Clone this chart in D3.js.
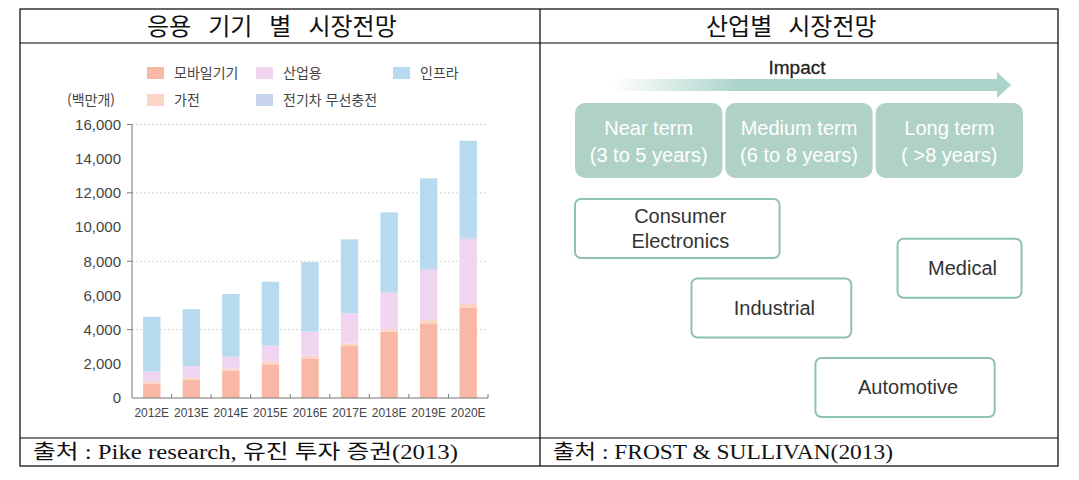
<!DOCTYPE html>
<html lang="ko">
  <head>
    <meta charset="UTF-8" />
    <title>응용 기기 별 시장전망 / 산업별 시장전망</title>
    <script src="https://d3js.org/d3.v7.min.js"></script>
    <style>
      body {
        margin: 0;
        background: #fff;
      }
      svg {
        display: block;
      }
      .serif {
        font-family: "Liberation Serif", "Noto Sans CJK KR", serif;
      }
      .sans {
        font-family: "Liberation Sans", Arial, "Noto Sans CJK KR", sans-serif;
      }
      .kr {
        font-family: "Noto Sans CJK KR", sans-serif;
      }
    </style>
  </head>
  <body>
    <div id="chart"></div>

    <script>
      // ---- data: left chart (백만개) ----
      const years = ["2012E", "2013E", "2014E", "2015E", "2016E", "2017E", "2018E", "2019E", "2020E"];
      const mobile = [850, 1090, 1600, 1970, 2320, 3040, 3880, 4370, 5300];
      const appliance = [100, 100, 120, 150, 150, 150, 150, 200, 200];
      const industrial = [590, 680, 700, 940, 1410, 1770, 2130, 2920, 3800];
      const evCharging = [0, 0, 0, 0, 0, 0, 50, 100, 100];
      const infra = [3210, 3330, 3660, 3740, 4070, 4320, 4650, 5260, 5650];
      const seriesNames = ["모바일기기", "가전", "산업용", "전기차 무선충전", "인프라"];
      const seriesColors = ["#f9b8a6", "#fcd5c7", "#efd5ef", "#c8d4ec", "#b8daee"];
      const yTicks = [0, 2000, 4000, 6000, 8000, 10000, 12000, 14000, 16000];
      const yGrid = [4000, 8000, 12000, 16000];

      // ---- data: right diagram ----
      const terms = ["Near term", "Medium term", "Long term"];
      const termSpans = ["(3 to 5 years)", "(6 to 8 years)", "( >8 years)"];
      const sectors = ["Consumer|Electronics", "Medical", "Industrial", "Automotive"];
      const sectorStart = [0, 2.16, 0.78, 1.61];
      const sectorEnd = [1.37, 2.99, 1.85, 2.81];
      const sectorLevel = [0, 0.25, 0.5, 1];

      const W = 1079, H = 480;
      const svg = d3.select("#chart").append("svg").attr("width", W).attr("height", H);
      svg.append("rect").attr("width", W).attr("height", H).attr("fill", "#fff");

      // ---------- table frame ----------
      const tbl = { x0: 20, x1: 1058, xm: 540, y0: 9, yh: 43, ys: 438, y1: 466 };
      const frame = svg.append("g").attr("stroke", "#000").attr("stroke-width", 1.2).attr("fill", "none");
      frame.append("rect").attr("x", tbl.x0).attr("y", tbl.y0)
        .attr("width", tbl.x1 - tbl.x0).attr("height", tbl.y1 - tbl.y0);
      frame.append("line").attr("x1", tbl.x0).attr("x2", tbl.x1).attr("y1", tbl.yh).attr("y2", tbl.yh);
      frame.append("line").attr("x1", tbl.x0).attr("x2", tbl.x1).attr("y1", tbl.ys).attr("y2", tbl.ys);
      frame.append("line").attr("x1", tbl.xm).attr("x2", tbl.xm).attr("y1", tbl.y0).attr("y2", tbl.y1);

      // headers and sources
      svg.append("text").attr("class", "serif").attr("x", 147).attr("y", 35)
        .attr("font-size", 24).attr("word-spacing", 11).attr("fill", "#111")
        .text("응용 기기 별 시장전망");
      svg.append("text").attr("class", "serif").attr("x", 706).attr("y", 35)
        .attr("font-size", 24).attr("word-spacing", 10).attr("fill", "#111")
        .text("산업별 시장전망");

      svg.append("text").attr("class", "serif").attr("x", 33).attr("y", 459)
        .attr("font-size", 20).attr("fill", "#111")
        .attr("textLength", 425).attr("lengthAdjust", "spacingAndGlyphs")
        .text("출처 : Pike research, 유진 투자 증권(2013)");
      svg.append("text").attr("class", "serif").attr("x", 553).attr("y", 459)
        .attr("font-size", 20).attr("fill", "#111")
        .attr("textLength", 340).attr("lengthAdjust", "spacingAndGlyphs")
        .text("출처 : FROST & SULLIVAN(2013)");

      // ---------- left: stacked bars ----------
      const plot = { left: 132, right: 488, top: 124.5, bottom: 398 };
      const x = d3.scaleBand().domain(years).range([plot.left, plot.right]).paddingInner(0.56).paddingOuter(0.28);
      const y = d3.scaleLinear().domain([0, 16000]).range([plot.bottom, plot.top]);

      const rows = years.map((yr, i) => ({
        year: yr,
        s0: mobile[i], s1: appliance[i], s2: industrial[i], s3: evCharging[i], s4: infra[i]
      }));
      const keys = ["s0", "s1", "s2", "s3", "s4"];
      const stacked = d3.stack().keys(keys)(rows);

      // dotted grid
      svg.append("g").selectAll("line").data(yGrid).join("line")
        .attr("x1", plot.left).attr("x2", plot.right)
        .attr("y1", (d) => y(d)).attr("y2", (d) => y(d))
        .attr("stroke", "#d6d6d6").attr("stroke-width", 1).attr("stroke-dasharray", "2,2");

      svg.append("g").selectAll("g").data(stacked).join("g")
        .attr("fill", (d, i) => seriesColors[i])
        .selectAll("rect").data((d) => d).join("rect")
        .attr("x", (d) => x(d.data.year))
        .attr("width", x.bandwidth())
        .attr("y", (d) => y(d[1]))
        .attr("height", (d) => y(d[0]) - y(d[1]));

      // y axis
      const yAxis = svg.append("g").attr("class", "sans")
        .attr("transform", `translate(${plot.left},0)`)
        .call(d3.axisLeft(y).tickValues(yTicks).tickFormat(d3.format(",")).tickSize(0).tickPadding(11));
      yAxis.select(".domain").remove();
      yAxis.selectAll("text").attr("font-size", 15).attr("fill", "#444").attr("font-family", "Liberation Sans, Arial, sans-serif");
      svg.append("g").selectAll("line").data(yGrid).join("line")
        .attr("x1", plot.left - 5).attr("x2", plot.left)
        .attr("y1", (d) => y(d)).attr("y2", (d) => y(d))
        .attr("stroke", "#777");
      svg.append("line").attr("x1", plot.left).attr("x2", plot.left)
        .attr("y1", y(16000)).attr("y2", plot.bottom).attr("stroke", "#777");

      // x axis: baseline with ticks at band boundaries
      svg.append("line").attr("x1", plot.left).attr("x2", plot.right)
        .attr("y1", plot.bottom).attr("y2", plot.bottom).attr("stroke", "#777");
      const step = x.step();
      svg.append("g").selectAll("line").data(years).join("line")
        .attr("x1", (d) => x(d) + x.bandwidth() / 2 + step / 2)
        .attr("x2", (d) => x(d) + x.bandwidth() / 2 + step / 2)
        .attr("y1", plot.bottom - 4).attr("y2", plot.bottom)
        .attr("stroke", "#777");
      svg.append("g").selectAll("text").data(years).join("text")
        .attr("class", "sans")
        .attr("x", (d) => x(d) + x.bandwidth() / 2)
        .attr("y", 417)
        .attr("text-anchor", "middle")
        .attr("font-size", 12)
        .attr("fill", "#444")
        .text((d) => d);

      // unit + legend
      svg.append("text").attr("class", "kr").attr("x", 67).attr("y", 105)
        .attr("font-size", 14).attr("fill", "#444").text("(백만개)");
      const legendPos = [[147, 73], [147, 100], [256, 73], [256, 100], [393, 73]];
      const legend = svg.append("g").selectAll("g").data(seriesNames).join("g")
        .attr("transform", (d, i) => `translate(${legendPos[i][0]},${legendPos[i][1]})`);
      legend.append("rect").attr("x", 0).attr("y", -6).attr("width", 17).attr("height", 12)
        .attr("fill", (d, i) => seriesColors[i]);
      legend.append("text").attr("class", "kr").attr("x", 27).attr("y", 5)
        .attr("font-size", 14).attr("fill", "#444").text((d) => d);

      // ---------- right: impact diagram ----------
      const impactX = d3.scaleLinear().domain([0, 3]).range([575, 1023]);
      const termX = d3.scaleBand().domain(terms).range([575, 1023]).paddingInner(0.02);
      const levelY = d3.scaleLinear().domain([0, 1]).range([199, 358]);
      const teal = "#a9d4ca";

      const grad = svg.append("defs").append("linearGradient").attr("id", "arrowGrad")
        .attr("gradientUnits", "userSpaceOnUse")
        .attr("x1", 612).attr("x2", 740).attr("y1", 0).attr("y2", 0);
      grad.append("stop").attr("offset", "0%").attr("stop-color", teal).attr("stop-opacity", 0);
      grad.append("stop").attr("offset", "100%").attr("stop-color", teal).attr("stop-opacity", 1);

      svg.append("rect").attr("x", 612).attr("y", 79).attr("width", 386).attr("height", 12)
        .attr("fill", "url(#arrowGrad)");
      svg.append("path").attr("d", "M997,72 L1011,85 L997,98 Z").attr("fill", teal);
      svg.append("text").attr("class", "sans").attr("x", 797).attr("y", 74)
        .attr("text-anchor", "middle").attr("font-size", 19).attr("fill", "#222")
        .attr("stroke", "#222").attr("stroke-width", 0.3).text("Impact");

      const termG = svg.append("g").selectAll("g").data(terms).join("g")
        .attr("transform", (d) => `translate(${termX(d)},103)`);
      termG.append("rect").attr("width", termX.bandwidth()).attr("height", 75)
        .attr("rx", 10).attr("fill", "#afd1c6");
      termG.append("text").attr("class", "sans").attr("x", termX.bandwidth() / 2).attr("y", 32)
        .attr("text-anchor", "middle").attr("font-size", 20).attr("fill", "#fff").text((d) => d);
      termG.append("text").attr("class", "sans").attr("x", termX.bandwidth() / 2).attr("y", 59)
        .attr("text-anchor", "middle").attr("font-size", 20).attr("fill", "#fff")
        .text((d, i) => termSpans[i]);

      const secG = svg.append("g").selectAll("g").data(sectors).join("g")
        .attr("transform", (d, i) => `translate(${impactX(sectorStart[i])},${levelY(sectorLevel[i])})`);
      secG.append("rect")
        .attr("width", (d, i) => impactX(sectorEnd[i]) - impactX(sectorStart[i]))
        .attr("height", 59).attr("rx", 6)
        .attr("fill", "#fff").attr("stroke", "#8ec2b3").attr("stroke-width", 2);
      secG.each(function (d, i) {
        const lines = d.split("|");
        const w = impactX(sectorEnd[i]) - impactX(sectorStart[i]);
        const t = d3.select(this).append("text").attr("class", "sans")
          .attr("text-anchor", "middle").attr("font-size", 20).attr("fill", "#333");
        lines.forEach((ln, j) => {
          t.append("tspan").attr("x", w / 2 + 3)
            .attr("y", 36 + (j - (lines.length - 1) / 2) * 25).text(ln);
        });
      });
    </script>
  </body>
</html>
